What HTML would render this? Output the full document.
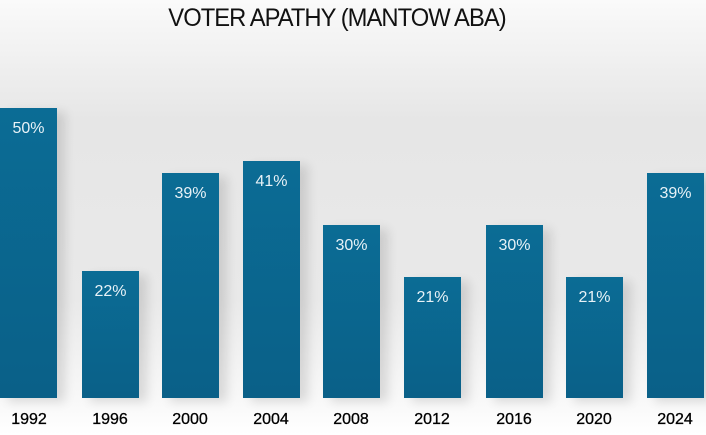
<!DOCTYPE html>
<html><head><style>
body{margin:0;width:706px;height:435px;overflow:hidden;background:linear-gradient(#fafafa 0px,#e6e6e6 120px,#e9e9e9 300px,#f8f8f8 400px,#fff 435px);font-family:"Liberation Sans",sans-serif;position:relative}
.t{position:absolute;top:4px;left:-16px;width:706px;text-align:center;font-size:25px;color:#111;letter-spacing:-1px;transform:scaleX(0.95)}
.b{position:absolute;width:57px;bottom:37px;background:linear-gradient(#0b6c95,#0a6088);box-shadow:8px 4px 10px rgba(0,0,0,0.12)}
.b span{position:absolute;top:12px;width:100%;text-align:center;color:#e8f2f7;font-size:16px}
.l{position:absolute;top:411px;width:70px;text-align:center;font-size:16px;color:#000;-webkit-text-stroke:0.3px #000}
</style></head><body>
<div class="t">VOTER APATHY (MANTOW ABA)</div>
<div class="b" style="left:0;top:108px"><span>50%</span></div>
<div class="b" style="left:82px;top:271px"><span>22%</span></div>
<div class="b" style="left:162px;top:173px"><span>39%</span></div>
<div class="b" style="left:243px;top:161px"><span>41%</span></div>
<div class="b" style="left:323px;top:225px"><span>30%</span></div>
<div class="b" style="left:404px;top:277px"><span>21%</span></div>
<div class="b" style="left:486px;top:225px"><span>30%</span></div>
<div class="b" style="left:566px;top:277px"><span>21%</span></div>
<div class="b" style="left:647px;top:173px"><span>39%</span></div>
<div class="l" style="left:-6px">1992</div>
<div class="l" style="left:75px">1996</div>
<div class="l" style="left:155px">2000</div>
<div class="l" style="left:236px">2004</div>
<div class="l" style="left:316px">2008</div>
<div class="l" style="left:397px">2012</div>
<div class="l" style="left:479px">2016</div>
<div class="l" style="left:559px">2020</div>
<div class="l" style="left:640px">2024</div>
</body></html>
